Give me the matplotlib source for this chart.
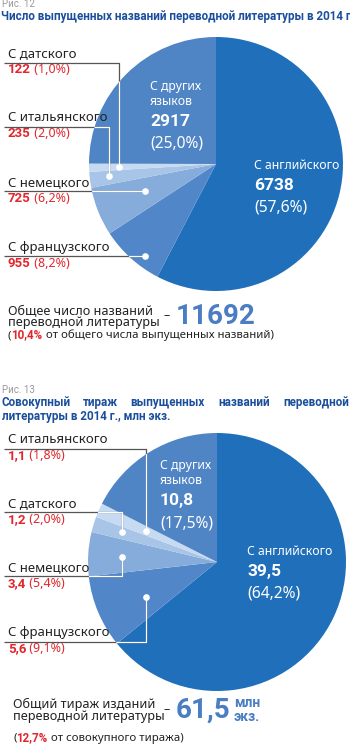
import matplotlib
matplotlib.use("Agg")
import matplotlib.pyplot as plt
from matplotlib.patches import Circle

plt.rcParams['font.family'] = ['Noto Sans', 'DejaVu Sans']

# --- Fig. 12: number of translated titles, 2014
langs1 = ["С английского", "С французского", "С немецкого", "С итальянского", "С датского", "С других\nязыков"]
titles = [6738, 955, 725, 235, 122, 2917]
pct1 = ["57,6%", "8,2%", "6,2%", "2,0%", "1,0%", "25,0%"]
total1 = "11692"
share1 = "10,4%"

# --- Fig. 13: total print run, mln copies
langs2 = ["С английского", "С французского", "С немецкого", "С датского", "С итальянского", "С других\nязыков"]
copies = [39.5, 5.6, 3.4, 1.2, 1.1, 10.8]
pct2 = ["64,2%", "9,1%", "5,4%", "2,0%", "1,8%", "17,5%"]
total2 = "61,5"
share2 = "12,7%"

# colours by position (clockwise from 12 o'clock)
colors = ["#1f6fba", "#5187c8", "#86acdc", "#a8c4e6", "#c6daf1", "#4f84c5"]
C_TITLE = "#1b4f9c"
C_RED = "#e2262c"
C_BIG = "#4a7dc2"
C_TXT = "#222222"
C_LINE = "#555555"
BOLD = ['Roboto', 'DejaVu Sans']   # Noto Sans here has no bold face
FS = 9.5

H = 744
fig = plt.figure(figsize=(3.5, 7.44), dpi=100)
ax = fig.add_axes([0, 0, 1, 1])


def Y(y):
    return H - y


def fmt(v):
    return f"{v:g}".replace(".", ",")


def pie(vals, cx, cy, r):
    ax.pie(vals, startangle=90, counterclock=False, colors=colors,
           center=(cx, Y(cy)), radius=r, wedgeprops=dict(linewidth=0))
    return Circle((cx, Y(cy)), r, transform=ax.transData)


def label(x, y, name, val, pct):
    ax.text(x, Y(y), name, fontsize=FS, color=C_TXT, va='bottom', ha='left')
    t = ax.text(x, Y(y + 16), val, fontsize=FS, color=C_RED, fontweight='bold',
                va='bottom', ha='left', family=BOLD)
    ax.annotate(f" ({pct})", xy=(1, 0), xycoords=t, fontsize=FS - 0.5, color=C_RED,
                va='bottom', ha='left')


def leader(pts, clip):
    xs = [p[0] for p in pts]
    ys = [Y(p[1]) for p in pts]
    ax.plot(xs, ys, color=C_LINE, lw=0.9, zorder=3, solid_capstyle='butt')
    w, = ax.plot(xs, ys, color='white', lw=0.9, zorder=4, solid_capstyle='butt')
    w.set_clip_path(clip)
    ax.plot(xs[-1], ys[-1], 'o', color='white', ms=3.8, zorder=5)


def inside(x, y, name, val, pct, fs_name=8.8):
    ax.text(x, Y(y), name, fontsize=fs_name, color='white', va='bottom', linespacing=1.2)
    ax.text(x, Y(y + 21), val, fontsize=12.5, color='white', fontweight='bold',
            va='bottom', family=BOLD)
    ax.text(x, Y(y + 44), f"({pct})", fontsize=11.2, color='white', va='bottom')


def total_note(x, y, share, rest):
    t = ax.text(x, Y(y), "(", fontsize=8.2, color=C_TXT, va='bottom')
    t = ax.annotate(share, xy=(1, 0), xycoords=t, fontsize=8.4, color=C_RED,
                    fontweight='bold', va='bottom', family=BOLD)
    ax.annotate(rest, xy=(1, 0), xycoords=t, fontsize=8.2, color=C_TXT, va='bottom')


# ---------------- Fig. 12 ----------------
ax.text(2, Y(9), "Рис. 12", fontsize=7, color="#9a9a9a", va='bottom', family=BOLD)
ax.text(1, Y(23), "Число выпущенных названий переводной литературы в 2014 г.",
        fontsize=8.4, color=C_TITLE, fontweight='bold', va='bottom', family=BOLD)

clip1 = pie(titles, 216, 164, 127)

label(8, 60, langs1[4], str(titles[4]), pct1[4])
leader([(4, 63), (119, 63), (119, 167)], clip1)
label(8, 124, langs1[3], str(titles[3]), pct1[3])
leader([(4, 127), (109, 127), (109, 176)], clip1)
label(8, 189, langs1[2], str(titles[2]), pct1[2])
leader([(4, 191), (145, 191)], clip1)
label(8, 254, langs1[1], str(titles[1]), pct1[1])
leader([(4, 256), (145, 256)], clip1)

inside(150, 108, langs1[5], str(titles[5]), pct1[5])
inside(254, 172, langs1[0], str(titles[0]), pct1[0])

ax.text(8, Y(329), "Общее число названий\nпереводной литературы", fontsize=9.1,
        color=C_TXT, va='bottom', linespacing=0.9)
ax.text(163, Y(322), "–", fontsize=9, color=C_TXT, va='bottom')
ax.text(176, Y(330), total1, fontsize=20, color=C_BIG, fontweight='bold', va='bottom',
        family=BOLD)
total_note(8, 341, share1, " от общего числа выпущенных названий)")

# ---------------- Fig. 13 ----------------
ax.text(2, Y(395), "Рис. 13", fontsize=7, color="#9a9a9a", va='bottom', family=BOLD)
title_words = ["Совокупный", "тираж", "выпущенных", "названий", "переводной"]
word_x = [2, 83, 130, 218, 283]
for wx, wd in zip(word_x, title_words):
    ax.text(wx, Y(409), wd, fontsize=8.4, color=C_TITLE, fontweight='bold', va='bottom',
            family=BOLD)
ax.text(2, Y(423), "литературы в 2014 г., млн экз.", fontsize=8.4, color=C_TITLE,
        fontweight='bold', va='bottom', family=BOLD)

clip2 = pie(copies, 217, 562, 129)

label(8, 446, langs2[4], fmt(copies[4]), pct2[4])
leader([(4, 449), (146, 449), (146, 531)], clip2)
label(8, 510, langs2[3], fmt(copies[3]), pct2[3])
leader([(4, 512), (122, 512), (122, 532)], clip2)
label(8, 574, langs2[2], fmt(copies[2]), pct2[2])
leader([(4, 576), (122, 576), (122, 557)], clip2)
label(8, 639, langs2[1], fmt(copies[1]), pct2[1])
leader([(4, 642), (146, 642), (146, 597)], clip2)

inside(160, 487, langs2[5], fmt(copies[5]), pct2[5])
inside(247, 558, langs2[0], fmt(copies[0]), pct2[0])

ax.text(13, Y(723), "Общий тираж изданий\nпереводной литературы", fontsize=9.1,
        color=C_TXT, va='bottom', linespacing=0.9)
ax.text(164, Y(716), "–", fontsize=9, color=C_TXT, va='bottom')
ax.text(176, Y(724), total2, fontsize=20, color=C_BIG, fontweight='bold', va='bottom',
        family=BOLD)
ax.text(234, Y(710), "млн", fontsize=10, color=C_BIG, fontweight='bold', va='bottom',
        family=BOLD)
ax.text(234, Y(724), "экз.", fontsize=10, color=C_BIG, fontweight='bold', va='bottom',
        family=BOLD)
total_note(13, 744, share2, " от совокупного тиража)")

ax.set_xlim(0, 350)
ax.set_ylim(0, H)
ax.set_aspect('auto')
ax.axis('off')
fig.savefig("out.png", dpi=100)
